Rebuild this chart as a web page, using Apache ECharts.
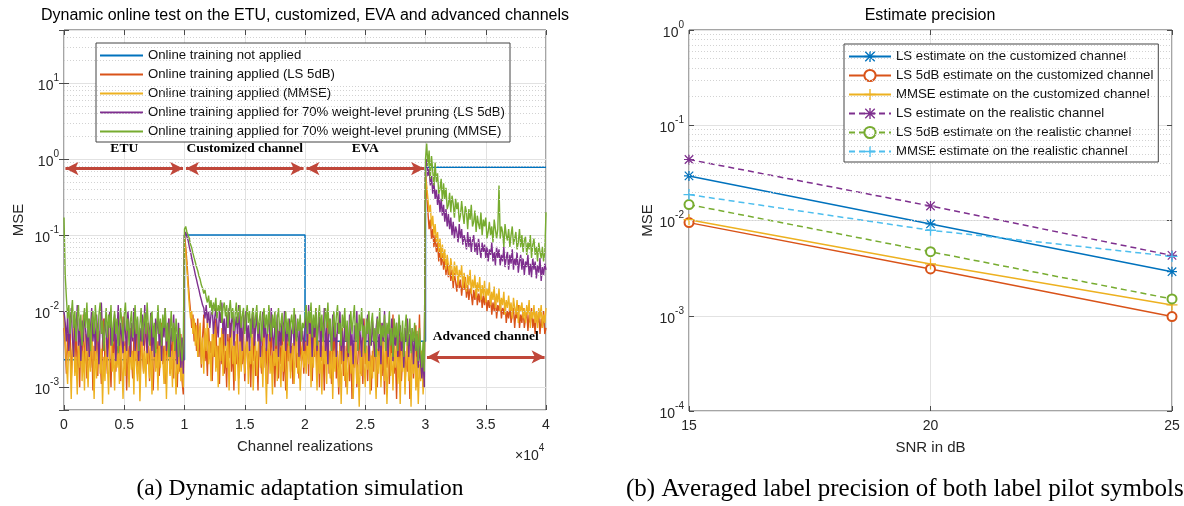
<!DOCTYPE html>
<html>
<head>
<meta charset="utf-8">
<script src="https://cdn.jsdelivr.net/npm/echarts@6/dist/echarts.min.js"></script>
<style>
  html, body { margin: 0; padding: 0; background: #fff; }
  #main { width: 1184px; height: 506px; }
</style>
</head>
<body>
<div id="main"></div>
<script>
// ---------- (a) dynamic adaptation: MSE per channel block of 1e4 realizations ----------
var blockNames = ["ETU", "Customized channel", "EVA", "Advanced channel"];

var blueX = [0, 10000, 10000, 20000, 20000, 30000, 30000, 40000];
var blueY = [2.3e-3, 2.3e-3, 0.1, 0.1, 4e-3, 4e-3, 0.78, 0.78];

// LS 5dB (orange)
var redEtu = [
  6e-3, 3.5e-3, 1.5e-3, 5e-3, 2.5e-3, 8e-3, 1.2e-3, 3e-3, 4.5e-3, 2e-3,
  7e-3, 1.6e-3, 3.5e-3, 1e-3, 5.5e-3, 2.5e-3, 9e-3, 2e-3, 4e-3, 1.3e-3,
  3e-3, 6e-3, 1.8e-3, 4.5e-3, 9e-4, 3.5e-3, 2.2e-3, 7e-3, 1.4e-3, 5e-3,
  2.5e-3, 1.1e-3, 4e-3, 8e-3, 2e-3, 3e-3, 1.5e-3, 6e-3, 2.8e-3, 1e-3,
  4.5e-3, 2e-3, 7.5e-3, 1.6e-3, 3.5e-3, 2.5e-3, 5.5e-3, 1.2e-3, 3e-3, 8.5e-3,
  2e-3, 4e-3, 9e-4, 3.5e-3, 1.8e-3, 6e-3, 2.5e-3, 1.3e-3, 4.5e-3, 2.2e-3,
  7e-3, 1.5e-3, 3e-3, 1e-3, 5e-3, 2.8e-3, 1.6e-3, 4e-3, 8e-3, 2e-3,
  3.5e-3, 1.2e-3, 5.5e-3, 2.5e-3, 9e-4, 3e-3, 6.5e-3, 1.8e-3, 4e-3, 1.4e-3,
  2.5e-3, 7e-3, 2e-3, 3.5e-3, 1.1e-3, 5e-3, 2.2e-3, 8e-3, 1.5e-3, 3e-3,
  4.5e-3, 1.3e-3, 6e-3, 2.5e-3, 1e-3, 3.5e-3, 1.6e-3, 5e-3, 1.2e-3, 8e-4];
var redCus = [
  0.1, 0.07, 0.045, 0.025, 0.015, 1e-2, 6e-3, 9e-3, 4e-3, 7e-3,
  3e-3, 8e-3, 2.5e-3, 5.5e-3, 1.8e-3, 4.5e-3, 9e-3, 2.2e-3, 3.5e-3, 1.4e-3,
  6e-3, 2.8e-3, 4e-3, 1.2e-3, 5e-3, 2.5e-3, 8e-3, 1.8e-3, 3.5e-3, 1.1e-3,
  4.5e-3, 2e-3, 6.5e-3, 1.5e-3, 3e-3, 1e-3, 5e-3, 2.4e-3, 7e-3, 1.6e-3,
  3.5e-3, 9e-4, 4e-3, 2e-3, 5.5e-3, 1.3e-3, 3e-3, 8.5e-3, 2e-3, 4e-3,
  1.2e-3, 3.2e-3, 6e-3, 1.7e-3, 2.8e-3, 1e-3, 4.5e-3, 2.2e-3, 7e-3, 1.4e-3,
  3e-3, 9e-4, 5e-3, 2.5e-3, 1.5e-3, 4e-3, 6e-3, 1.8e-3, 3.3e-3, 1.1e-3,
  4.5e-3, 2.2e-3, 8e-3, 1.5e-3, 3e-3, 1e-3, 5.5e-3, 2.6e-3, 1.3e-3, 3.8e-3,
  2e-3, 6.5e-3, 1.2e-3, 3e-3, 9e-4, 4.5e-3, 2.2e-3, 5e-3, 1.6e-3, 3.5e-3,
  1.1e-3, 4e-3, 7e-3, 1.8e-3, 2.8e-3, 1.3e-3, 5e-3, 2.2e-3, 3.5e-3, 1.5e-3];
var redEva = [
  4e-3, 2e-3, 6e-3, 1.4e-3, 9e-3, 3e-3, 1.2e-3, 5e-3, 2.5e-3, 1.1e-2,
  1.6e-3, 4e-3, 1e-3, 6e-3, 2.2e-3, 3.5e-3, 9e-4, 5e-3, 2e-3, 8e-3,
  1.5e-3, 3e-3, 1.1e-3, 4.5e-3, 2.5e-3, 7e-3, 1.3e-3, 3e-3, 8e-4, 4e-3,
  2e-3, 6e-3, 1.4e-3, 3.5e-3, 1e-3, 5e-3, 2.2e-3, 1.2e-3, 4e-3, 7e-4,
  3e-3, 1.8e-3, 5e-3, 1e-3, 2.5e-3, 6e-3, 1.5e-3, 3e-3, 1.1e-3, 8e-3,
  2e-3, 3.5e-3, 1.2e-3, 4.5e-3, 2.4e-3, 9e-4, 3e-3, 1.6e-3, 5.5e-3, 2e-3,
  1e-3, 4e-3, 2.6e-3, 7e-3, 1.4e-3, 3e-3, 8e-4, 4.5e-3, 1.8e-3, 3.2e-3,
  1.1e-3, 5e-3, 2.2e-3, 9e-3, 1.5e-3, 2.8e-3, 7e-4, 3.5e-3, 1.8e-3, 6e-3,
  1.2e-3, 2.5e-3, 4.5e-3, 1e-3, 3e-3, 1.6e-3, 5e-3, 7e-4, 2.2e-3, 4e-3,
  1.3e-3, 3e-3, 6.5e-3, 1e-3, 2.5e-3, 9e-3, 1.5e-3, 3e-3, 1e-3, 2e-3];
var redAdv = [
  0.7, 0.35, 0.2, 0.12, 0.16, 0.09, 0.12, 0.07, 0.1, 0.06,
  0.08, 0.045, 0.07, 0.04, 0.06, 0.035, 0.05, 0.03, 0.045, 0.028,
  0.04, 0.025, 0.035, 0.02, 0.032, 0.024, 0.018, 0.03, 0.02, 0.026,
  0.016, 0.024, 0.019, 0.028, 0.015, 0.022, 0.014, 0.02, 0.017, 0.012,
  0.019, 0.014, 0.022, 0.012, 0.017, 0.013, 0.02, 0.011, 0.016, 0.012,
  0.018, 0.01, 0.014, 0.011, 0.016, 0.009, 0.013, 0.01, 0.015, 0.008,
  0.012, 0.01, 0.014, 0.008, 0.011, 0.009, 0.013, 0.007, 0.01, 0.008,
  0.012, 0.007, 0.009, 0.011, 0.006, 0.01, 0.008, 0.012, 0.006, 0.009,
  0.007, 0.011, 0.006, 0.008, 0.01, 0.0055, 0.009, 0.007, 0.011, 0.006,
  0.008, 0.005, 0.01, 0.007, 0.009, 0.005, 0.008, 0.006, 0.01, 0.005,
  0.006];

// MMSE (yellow)
var yelEtu = [
  9e-3, 4e-3, 2e-3, 1.1e-3, 4.5e-3, 2.8e-3, 7e-4, 3.5e-3, 6e-3, 1.4e-3,
  2.5e-3, 8e-4, 4e-3, 1.8e-3, 7e-3, 1.2e-3, 3e-3, 9e-4, 5e-3, 2.2e-3,
  1e-3, 3.5e-3, 1.6e-3, 6e-3, 2.5e-3, 7e-4, 4e-3, 1.3e-3, 2.8e-3, 5.5e-3,
  1.5e-3, 3.2e-3, 6e-4, 2.5e-3, 1.2e-3, 4.5e-3, 2e-3, 8e-4, 3.5e-3, 6.5e-3,
  1.6e-3, 2.8e-3, 9e-4, 4e-3, 1.8e-3, 3e-3, 1.1e-3, 5e-3, 2.2e-3, 7e-4,
  3.5e-3, 1.4e-3, 6e-3, 2.5e-3, 1e-3, 4e-3, 1.7e-3, 3e-3, 8e-4, 5.5e-3,
  2e-3, 1.2e-3, 3.8e-3, 6.5e-4, 2.5e-3, 4.5e-3, 1.5e-3, 3e-3, 1e-3, 7e-3,
  2.2e-3, 1.3e-3, 3.5e-3, 8e-4, 2.8e-3, 5e-3, 1.6e-3, 3.2e-3, 9e-4, 4e-3,
  1.8e-3, 6e-3, 2.4e-3, 1.1e-3, 3.5e-3, 7e-4, 2.6e-3, 4.5e-3, 1.4e-3, 3e-3,
  1e-3, 5e-3, 2e-3, 8e-4, 3.2e-3, 1.5e-3, 4e-3, 1.2e-3, 2.2e-3, 1e-3];
var yelCus = [
  0.09, 0.06, 0.035, 0.02, 0.012, 8e-3, 1e-2, 5e-3, 8e-3, 3.5e-3,
  6.5e-3, 2.5e-3, 5e-3, 7e-3, 2e-3, 4.5e-3, 1.5e-3, 6e-3, 3e-3, 8e-3,
  2e-3, 4e-3, 1.2e-3, 5e-3, 2.5e-3, 7e-3, 1.6e-3, 3.5e-3, 1e-3, 4.5e-3,
  2.2e-3, 6e-3, 1.4e-3, 3e-3, 5.5e-3, 1.8e-3, 4e-3, 9e-4, 3.2e-3, 6.5e-3,
  2e-3, 3.5e-3, 1.2e-3, 5e-3, 2.5e-3, 8e-4, 4e-3, 1.6e-3, 3e-3, 6e-3,
  1.5e-3, 2.8e-3, 4.5e-3, 1.1e-3, 3.5e-3, 2e-3, 5.5e-3, 9e-4, 2.5e-3, 4e-3,
  1.4e-3, 3e-3, 7e-3, 1.8e-3, 3.5e-3, 1e-3, 4.5e-3, 2.2e-3, 6e-4, 3e-3,
  5e-3, 1.5e-3, 2.6e-3, 8e-4, 4e-3, 1.9e-3, 3.2e-3, 1.2e-3, 5.5e-3, 2.4e-3,
  1e-3, 3.6e-3, 1.6e-3, 6e-3, 2e-3, 7e-4, 3e-3, 4.5e-3, 1.3e-3, 2.6e-3,
  3.8e-3, 1.1e-3, 2.8e-3, 5e-3, 1.5e-3, 3e-3, 9e-4, 2.2e-3, 4e-3, 1.8e-3];
var yelEva = [
  3e-3, 1.5e-3, 5e-3, 2e-3, 7e-3, 1e-3, 3.5e-3, 1.8e-3, 6e-3, 2.5e-3,
  9e-4, 4e-3, 1.5e-3, 3e-3, 8e-4, 5e-3, 2e-3, 3.5e-3, 1.1e-3, 6e-3,
  2.2e-3, 1.3e-3, 4e-3, 7e-4, 3e-3, 1.6e-3, 5e-3, 2e-3, 1e-3, 3.5e-3,
  6e-4, 2.5e-3, 4.5e-3, 1.2e-3, 3e-3, 8e-4, 2e-3, 5e-3, 1.5e-3, 3e-3,
  7e-4, 2.5e-3, 4e-3, 1.1e-3, 2e-3, 5.5e-4, 3e-3, 1.4e-3, 6e-3, 2e-3,
  1e-3, 3.5e-3, 1.7e-3, 4.5e-3, 8e-4, 2.6e-3, 1.3e-3, 5e-3, 2e-3, 7e-4,
  3.2e-3, 1.5e-3, 4e-3, 1e-3, 2.4e-3, 6e-3, 1.2e-3, 3e-3, 6e-4, 2e-3,
  4.5e-3, 1.4e-3, 2.8e-3, 9e-4, 3.5e-3, 1.8e-3, 5.5e-3, 1.1e-3, 2.5e-3, 6e-4,
  3e-3, 1.6e-3, 4e-3, 8e-4, 2.2e-3, 5e-3, 1.2e-3, 2.8e-3, 5.5e-4, 3.5e-3,
  1.5e-3, 4e-3, 9e-4, 2.5e-3, 6e-4, 2e-3, 1.2e-3, 3e-3, 8e-4, 1.5e-3];
var yelAdv = [
  0.6, 0.45, 0.3, 0.2, 0.25, 0.13, 0.18, 0.1, 0.14, 0.08,
  0.11, 0.06, 0.09, 0.05, 0.075, 0.045, 0.065, 0.035, 0.055, 0.04,
  0.03, 0.05, 0.035, 0.025, 0.045, 0.03, 0.04, 0.022, 0.035, 0.028,
  0.04, 0.02, 0.032, 0.024, 0.018, 0.03, 0.022, 0.035, 0.017, 0.026,
  0.02, 0.03, 0.015, 0.024, 0.018, 0.028, 0.014, 0.022, 0.016, 0.025,
  0.013, 0.02, 0.016, 0.024, 0.012, 0.018, 0.014, 0.021, 0.011, 0.017,
  0.013, 0.02, 0.01, 0.015, 0.012, 0.018, 0.009, 0.014, 0.011, 0.016,
  0.01, 0.013, 0.008, 0.015, 0.011, 0.009, 0.014, 0.007, 0.012, 0.01,
  0.013, 0.008, 0.011, 0.007, 0.012, 0.009, 0.014, 0.006, 0.01, 0.008,
  0.012, 0.007, 0.01, 0.006, 0.011, 0.008, 0.012, 0.006, 0.009, 0.007,
  0.011];

// 70% pruning, LS 5dB (purple)
var purEtu = [
  1e-2, 7e-3, 4e-3, 9e-3, 3e-3, 6e-3, 1.1e-2, 4.5e-3, 2.5e-3, 8e-3,
  5e-3, 1.2e-2, 3.5e-3, 6e-3, 2.2e-3, 7.5e-3, 4e-3, 1e-2, 5.5e-3, 3e-3,
  8e-3, 2.5e-3, 6e-3, 1.1e-2, 4e-3, 7e-3, 3e-3, 9e-3, 5e-3, 2e-3,
  6.5e-3, 1.3e-2, 4.5e-3, 3e-3, 8e-3, 5e-3, 2.5e-3, 7e-3, 1e-2, 3.5e-3,
  6e-3, 4e-3, 9e-3, 2.2e-3, 5e-3, 1.2e-2, 3.5e-3, 7e-3, 4.5e-3, 2.8e-3,
  8.5e-3, 5e-3, 3e-3, 1e-2, 6e-3, 2.5e-3, 7e-3, 4e-3, 1.1e-2, 3e-3,
  5.5e-3, 8e-3, 2.2e-3, 6e-3, 4e-3, 9e-3, 3.5e-3, 1.2e-2, 5e-3, 2.8e-3,
  7e-3, 4e-3, 9.5e-3, 3e-3, 6e-3, 2.5e-3, 8e-3, 5e-3, 1e-2, 3.5e-3,
  6e-3, 2.2e-3, 7e-3, 4.5e-3, 1.1e-2, 3e-3, 5.5e-3, 8e-3, 2.5e-3, 6e-3,
  4e-3, 9e-3, 3e-3, 5e-3, 2e-3, 7e-3, 3.5e-3, 1.8e-3, 4.5e-3, 1.5e-3];
var purCus = [
  0.1, 0.11, 0.095, 0.085, 0.07, 0.06, 0.05, 0.042, 0.036, 0.03,
  0.026, 0.022, 0.019, 0.016, 0.014, 0.012, 1.1e-2, 8e-3, 1.2e-2, 7e-3,
  1e-2, 6e-3, 9e-3, 1.2e-2, 5e-3, 8e-3, 1.1e-2, 6.5e-3, 4.5e-3, 1e-2,
  7e-3, 1.3e-2, 5e-3, 8e-3, 3.5e-3, 9e-3, 6e-3, 1.1e-2, 4.5e-3, 7e-3,
  1e-2, 3.5e-3, 6e-3, 8.5e-3, 5e-3, 1.2e-2, 4e-3, 7e-3, 3e-3, 9e-3,
  5.5e-3, 1e-2, 4e-3, 6.5e-3, 3e-3, 8e-3, 5e-3, 1.1e-2, 3.5e-3, 6e-3,
  9e-3, 4e-3, 7e-3, 2.5e-3, 5.5e-3, 1e-2, 4.5e-3, 7.5e-3, 3e-3, 6e-3,
  8.5e-3, 4e-3, 1.1e-2, 5e-3, 3e-3, 7e-3, 4.5e-3, 9e-3, 2.5e-3, 6e-3,
  3.5e-3, 8e-3, 5e-3, 1e-2, 3e-3, 6.5e-3, 4e-3, 8e-3, 2.8e-3, 5.5e-3,
  7e-3, 3.5e-3, 9e-3, 4.5e-3, 6e-3, 2.5e-3, 7.5e-3, 4e-3, 5.5e-3, 3e-3];
var purEva = [
  6e-3, 9e-3, 3.5e-3, 1.2e-2, 5e-3, 7e-3, 2.5e-3, 8e-3, 4.5e-3, 1e-2,
  3e-3, 6e-3, 8.5e-3, 2.5e-3, 7e-3, 4.5e-3, 1.1e-2, 3e-3, 6e-3, 2e-3,
  8e-3, 5e-3, 3e-3, 9e-3, 4e-3, 6.5e-3, 2.5e-3, 7e-3, 5e-3, 1e-2,
  3e-3, 5.5e-3, 2.2e-3, 7.5e-3, 4e-3, 6e-3, 2.5e-3, 9e-3, 3.5e-3, 5e-3,
  2e-3, 6.5e-3, 4e-3, 1e-2, 3e-3, 7e-3, 4.5e-3, 2.5e-3, 8e-3, 5e-3,
  3e-3, 6e-3, 9e-3, 2.2e-3, 5e-3, 3.5e-3, 7.5e-3, 4e-3, 2.5e-3, 6e-3,
  8.5e-3, 3e-3, 5e-3, 2e-3, 7e-3, 4e-3, 1e-2, 3e-3, 5.5e-3, 2.5e-3,
  6e-3, 4e-3, 8e-3, 2.2e-3, 5e-3, 3.5e-3, 7e-3, 2.5e-3, 4.5e-3, 6.5e-3,
  3e-3, 5e-3, 1.8e-3, 6e-3, 4e-3, 8e-3, 2.5e-3, 5e-3, 3e-3, 6e-3,
  2e-3, 4.5e-3, 3e-3, 5e-3, 1.8e-3, 3.5e-3, 2e-3, 1.3e-3, 2.5e-3, 1e-3];
var purAdv = [
  0.8, 1.0, 0.6, 0.75, 0.45, 0.6, 0.35, 0.5, 0.3, 0.4,
  0.25, 0.35, 0.2, 0.3, 0.18, 0.25, 0.15, 0.22, 0.13, 0.19,
  0.12, 0.17, 0.1, 0.15, 0.09, 0.13, 0.11, 0.08, 0.14, 0.09,
  0.12, 0.075, 0.1, 0.085, 0.065, 0.11, 0.07, 0.095, 0.06, 0.085,
  0.1, 0.06, 0.08, 0.055, 0.09, 0.065, 0.05, 0.08, 0.06, 0.075,
  0.05, 0.07, 0.045, 0.065, 0.055, 0.08, 0.045, 0.06, 0.04, 0.07,
  0.05, 0.065, 0.04, 0.055, 0.045, 0.07, 0.038, 0.05, 0.06, 0.035,
  0.055, 0.042, 0.065, 0.035, 0.05, 0.04, 0.06, 0.032, 0.045, 0.055,
  0.035, 0.05, 0.03, 0.045, 0.038, 0.055, 0.03, 0.042, 0.028, 0.05,
  0.035, 0.045, 0.027, 0.04, 0.032, 0.05, 0.025, 0.038, 0.03, 0.042,
  0.035];

// 70% pruning, MMSE (green)
var grnEtu = [
  0.17, 0.03, 1.5e-2, 8e-3, 1.2e-2, 5e-3, 9e-3, 1.4e-2, 6e-3, 1e-2,
  4e-3, 8e-3, 1.2e-2, 5.5e-3, 9e-3, 3.5e-3, 7e-3, 1.1e-2, 6e-3, 1.3e-2,
  4.5e-3, 8e-3, 3e-3, 7e-3, 1e-2, 5e-3, 1.2e-2, 6.5e-3, 4e-3, 9e-3,
  1.3e-2, 5e-3, 7.5e-3, 3e-3, 6e-3, 1.1e-2, 4.5e-3, 9e-3, 6e-3, 1.2e-2,
  3.5e-3, 7e-3, 1e-2, 5e-3, 8e-3, 2.8e-3, 6e-3, 1.1e-2, 7e-3, 4e-3,
  9e-3, 1.3e-2, 5.5e-3, 8e-3, 3.5e-3, 7e-3, 1e-2, 4.5e-3, 6e-3, 1.2e-2,
  5e-3, 8.5e-3, 3e-3, 6.5e-3, 1.1e-2, 4e-3, 7e-3, 9.5e-3, 5e-3, 1.3e-2,
  6e-3, 3.5e-3, 8e-3, 1e-2, 4.5e-3, 7e-3, 2.8e-3, 6e-3, 1.2e-2, 5e-3,
  8e-3, 3.5e-3, 9e-3, 6e-3, 1.1e-2, 4e-3, 7e-3, 2.5e-3, 5.5e-3, 1e-2,
  4e-3, 7e-3, 3e-3, 8e-3, 5e-3, 2.5e-3, 6e-3, 3.5e-3, 2.2e-3, 4e-3];
var grnCus = [
  0.12, 0.13, 0.11, 0.1, 0.09, 0.075, 0.068, 0.058, 0.05, 0.044,
  0.038, 0.034, 0.029, 0.026, 0.022, 0.02, 0.017, 0.019, 0.015, 0.013,
  1.6e-2, 1.1e-2, 1.4e-2, 9e-3, 1.3e-2, 1e-2, 1.5e-2, 8e-3, 1.2e-2, 1e-2,
  1.4e-2, 7e-3, 1.1e-2, 1.3e-2, 8.5e-3, 1.2e-2, 6e-3, 1e-2, 1.4e-2, 8e-3,
  1.1e-2, 5.5e-3, 9e-3, 1.3e-2, 7e-3, 1e-2, 1.2e-2, 6e-3, 9e-3, 1.1e-2,
  5e-3, 8e-3, 1.2e-2, 7e-3, 1e-2, 4.5e-3, 9e-3, 1.1e-2, 6e-3, 8.5e-3,
  1.2e-2, 5e-3, 7.5e-3, 1e-2, 4e-3, 8e-3, 1.1e-2, 6e-3, 9e-3, 5e-3,
  1.2e-2, 7e-3, 4.5e-3, 9e-3, 6e-3, 1e-2, 3.5e-3, 8e-3, 1.1e-2, 5.5e-3,
  7e-3, 9.5e-3, 4e-3, 6.5e-3, 1e-2, 5e-3, 8e-3, 3.5e-3, 7e-3, 9e-3,
  5e-3, 1.1e-2, 6e-3, 4e-3, 8e-3, 5.5e-3, 9e-3, 4e-3, 7e-3, 6e-3];
var grnEva = [
  8e-3, 1.2e-2, 5e-3, 1e-2, 7e-3, 1.3e-2, 4.5e-3, 9e-3, 6e-3, 1.1e-2,
  3.5e-3, 8e-3, 1.2e-2, 5.5e-3, 9e-3, 4e-3, 7e-3, 1.1e-2, 6e-3, 1.3e-2,
  5e-3, 8e-3, 3e-3, 6.5e-3, 1e-2, 4.5e-3, 8.5e-3, 1.2e-2, 5e-3, 7e-3,
  3.5e-3, 9e-3, 6e-3, 1.1e-2, 4e-3, 7.5e-3, 2.8e-3, 6e-3, 1e-2, 5e-3,
  8e-3, 1.2e-2, 4e-3, 7e-3, 3e-3, 9e-3, 5.5e-3, 1.1e-2, 4.5e-3, 6.5e-3,
  2.8e-3, 8e-3, 5e-3, 1e-2, 3.5e-3, 7e-3, 9.5e-3, 4e-3, 6e-3, 2.5e-3,
  8e-3, 5e-3, 1.1e-2, 3.5e-3, 6.5e-3, 4.5e-3, 9e-3, 3e-3, 7e-3, 5e-3,
  1e-2, 3.5e-3, 6e-3, 2.5e-3, 8e-3, 4.5e-3, 7e-3, 3e-3, 9e-3, 5.5e-3,
  4e-3, 7.5e-3, 2.5e-3, 6e-3, 9e-3, 3.5e-3, 5e-3, 8e-3, 2.8e-3, 6e-3,
  4e-3, 7e-3, 3e-3, 5.5e-3, 2.2e-3, 6e-3, 3e-3, 1.8e-3, 4e-3, 1.6e-3];
var grnAdv = [
  1.0, 1.6, 0.8, 1.3, 0.55, 1.1, 0.7, 0.45, 0.9, 0.5,
  0.65, 0.35, 0.4, 0.55, 0.28, 0.48, 0.3, 0.42, 0.22, 0.25,
  0.36, 0.2, 0.33, 0.26, 0.17, 0.3, 0.22, 0.27, 0.15, 0.18,
  0.28, 0.19, 0.14, 0.24, 0.2, 0.12, 0.22, 0.16, 0.25, 0.13,
  0.15, 0.21, 0.11, 0.18, 0.14, 0.12, 0.2, 0.1, 0.16, 0.13,
  0.17, 0.09, 0.11, 0.15, 0.1, 0.13, 0.08, 0.16, 0.12, 0.09,
  0.12, 0.45, 0.09, 0.13, 0.11, 0.07, 0.14, 0.1, 0.085, 0.12,
  0.07, 0.1, 0.13, 0.075, 0.09, 0.11, 0.065, 0.08, 0.12, 0.07,
  0.1, 0.06, 0.085, 0.095, 0.055, 0.08, 0.065, 0.1, 0.05, 0.075,
  0.09, 0.055, 0.07, 0.045, 0.08, 0.06, 0.05, 0.07, 0.045, 0.06,
  0.2];

var leftNames = [
  "Online training not applied",
  "Online training applied (LS 5dB)",
  "Online training applied (MMSE)",
  "Online training applied for 70% weight-level pruning (LS 5dB)",
  "Online training applied for 70% weight-level pruning (MMSE)"
];

// ---------- (b) estimate precision ----------
var snr = [15, 20, 25];
var lsCustom = [0.0294, 0.0092, 0.0029];
var ls5Custom = [0.0095, 0.0031, 0.00098];
var mmseCustom = [0.0102, 0.0035, 0.0013];
var lsReal = [0.0437, 0.0142, 0.0043];
var ls5Real = [0.0147, 0.0047, 0.0015];
var mmseReal = [0.0187, 0.0079, 0.0042];
var rightNames = [
  "LS estimate on the customized channel",
  "LS 5dB estimate on the customized channel",
  "MMSE estimate on the customized channel",
  "LS estimate on the realistic channel",
  "LS 5dB estimate on the realistic channel",
  "MMSE estimate on the realistic channel"
];

var FONT = '"Liberation Sans", Arial, sans-serif';
var SERIF = '"Liberation Serif", "Times New Roman", serif';
var TXT = "#262626";
var BOX = "#4a4a4a";
var GRID_MAJOR = "#e2e2e2";
var GRID_MINOR = "#d2d2d2";
var ARROW = "#c0473a";
var C = ["#0072BD", "#D95319", "#EDB120", "#7E2F8E", "#77AC30", "#4DBEEE"];

var PLUS = "path://M4.4,0L5.6,0L5.6,4.4L10,4.4L10,5.6L5.6,5.6L5.6,10L4.4,10L4.4,5.6L0,5.6L0,4.4L4.4,4.4Z";
var STAR = PLUS + "M1.2,0.35L9.65,8.8L8.8,9.65L0.35,1.2Z M8.8,0.35L9.65,1.2L1.2,9.65L0.35,8.8Z";

// x position of each sample: blocks of 1e4 realizations, last block closed at 4e4
function blockPoints(blocks) {
  var pts = [];
  blocks.forEach(function (vals, b) {
    var last = b === blocks.length - 1;
    var step = 10000 / (last ? vals.length - 1 : vals.length);
    vals.forEach(function (v, i) { pts.push([b * 10000 + i * step, v]); });
  });
  return pts;
}

function minorLines(lo, hi) {
  var out = [];
  for (var e = -5; e < 3; e++) {
    for (var m = 2; m <= 9; m++) {
      var v = m * Math.pow(10, e);
      if (v > lo * 1.0001 && v < hi * 0.9999) out.push({ yAxis: v });
    }
  }
  return out;
}

function expLabel(v) {
  var e = Math.log(v) / Math.LN10;
  var r = Math.round(e);
  if (Math.abs(e - r) > 1e-6) return "";
  return "{b|10}{s|" + r + "}";
}
var expRich = {
  b: { fontSize: 14, color: TXT, fontFamily: FONT, fontWeight: "normal", lineHeight: 20, verticalAlign: "bottom" },
  s: { fontSize: 10, color: TXT, fontFamily: FONT, fontWeight: "normal", lineHeight: 11, verticalAlign: "top" }
};

function xAxisOf(grid, min, max, interval, name, fmt, top) {
  return {
    type: "value", gridIndex: grid, min: min, max: max, interval: interval,
    position: top ? "top" : "bottom",
    name: top ? "" : name, nameLocation: "middle", nameGap: 29,
    nameTextStyle: { fontFamily: FONT, fontSize: 15, color: TXT },
    axisLine: { show: false },
    axisTick: { show: true, inside: true, length: 5, lineStyle: { color: BOX } },
    axisLabel: { show: !top, margin: 8, fontFamily: FONT, fontSize: 14, color: TXT, formatter: fmt },
    splitLine: { show: !top, lineStyle: { color: GRID_MAJOR, width: 1 } }
  };
}

function yAxisOf(grid, min, max, nameGap, right) {
  return {
    type: "log", logBase: 10, gridIndex: grid, min: min, max: max,
    position: right ? "right" : "left",
    name: right ? "" : "MSE", nameLocation: "middle", nameGap: nameGap, nameRotate: 90,
    nameTextStyle: { fontFamily: FONT, fontSize: 15, color: TXT },
    axisLine: { show: false },
    axisTick: { show: true, inside: true, length: 5, lineStyle: { color: BOX } },
    axisLabel: { show: !right, margin: 5, formatter: expLabel, rich: expRich },
    splitLine: { show: !right, lineStyle: { color: GRID_MAJOR, width: 1 } },
    minorTick: { show: false }
  };
}

function noisy(name, color, blocks) {
  return {
    name: name, type: "line", xAxisIndex: 0, yAxisIndex: 0,
    data: blockPoints(blocks), symbol: "none", color: color,
    lineStyle: { width: 1.4, color: color }, silent: true
  };
}

function arrowPair(label, x0, x1, y) {
  return [{ name: label, coord: [x0, y] }, { coord: [x1, y] }];
}

function estSeries(name, color, data, symbol, dashed, size) {
  var ring = symbol === "emptyCircle";
  return {
    name: name, type: "line", xAxisIndex: 2, yAxisIndex: 2,
    data: snr.map(function (s, i) { return [s, data[i]]; }),
    color: color, symbol: symbol, symbolSize: size,
    lineStyle: { width: 1.5, color: color, type: dashed ? [6, 4] : "solid" },
    itemStyle: { color: color, borderColor: color, borderWidth: ring ? 1.3 : 0 },
    silent: true
  };
}

function minorGridSeries(xi, yi, lo, hi) {
  return {
    type: "line", xAxisIndex: xi, yAxisIndex: yi, data: [], silent: true, z: 1,
    markLine: { silent: true, symbol: "none", animation: false, label: { show: false },
      lineStyle: { color: GRID_MINOR, type: [1, 2], width: 1 }, emphasis: { disabled: true },
      data: minorLines(lo, hi) }
  };
}

var leftMin = 5e-4, leftMax = 50, rightMin = 1e-4, rightMax = 1;
var titleFont = { fontFamily: FONT, fontSize: 16, fontWeight: "normal", color: "#000" };

var option = {
  animation: false,
  backgroundColor: "#fff",
  title: [
    { text: "Dynamic online test on the ETU, customized, EVA and advanced channels", left: 305, top: 8, textAlign: "center", padding: 0, textStyle: titleFont },
    { text: "Estimate precision", left: 930, top: 8, textAlign: "center", padding: 0, textStyle: titleFont },
    { text: "{x|\u00d7}{b|10}{s|4}", left: 515, top: 443, padding: 0,
      textStyle: { fontWeight: "normal", rich: {
        x: { fontSize: 14, color: TXT, fontFamily: FONT, fontWeight: "normal", lineHeight: 20, verticalAlign: "bottom" },
        b: expRich.b, s: expRich.s } } },
    { text: "(a) Dynamic adaptation simulation", left: 300, top: 477, textAlign: "center", padding: 0,
      textStyle: { fontFamily: SERIF, fontSize: 23.5, fontWeight: "normal", color: "#000" } },
    { text: "(b) Averaged label precision of both label pilot symbols", left: 626, top: 477, padding: 0,
      textStyle: { fontFamily: SERIF, fontSize: 25, fontWeight: "normal", color: "#000" } }
  ],
  legend: [
    { data: leftNames, orient: "vertical", left: 96, top: 43, icon: "rect", itemWidth: 43, itemHeight: 2, itemGap: 4,
      padding: [5, 5, 3, 4], borderColor: "#444", borderWidth: 1, backgroundColor: "#fff",
      selectedMode: false, textStyle: { fontFamily: FONT, fontSize: 13.2, lineHeight: 15, color: "#111" } },
    { data: rightNames, orient: "vertical", left: 844, top: 44, itemWidth: 42, itemHeight: 14, itemGap: 4,
      padding: [5, 5, 3, 4], borderColor: "#444", borderWidth: 1, backgroundColor: "#fff",
      selectedMode: false, textStyle: { fontFamily: FONT, fontSize: 13.2, lineHeight: 15, color: "#111" } }
  ],
  grid: [
    { left: 64, top: 30, width: 482, height: 380, show: true, borderColor: BOX, borderWidth: 1, backgroundColor: "transparent" },
    { left: 689, top: 30, width: 483, height: 381, show: true, borderColor: BOX, borderWidth: 1, backgroundColor: "transparent" }
  ],
  xAxis: [
    xAxisOf(0, 0, 40000, 5000, "Channel realizations", function (v) { return String(v / 10000); }, false),
    xAxisOf(0, 0, 40000, 5000, "", null, true),
    xAxisOf(1, 15, 25, 5, "SNR in dB", null, false),
    xAxisOf(1, 15, 25, 5, "", null, true)
  ],
  yAxis: [
    yAxisOf(0, leftMin, leftMax, 38, false),
    yAxisOf(0, leftMin, leftMax, 0, true),
    yAxisOf(1, rightMin, rightMax, 31, false),
    yAxisOf(1, rightMin, rightMax, 0, true)
  ],
  series: [
    minorGridSeries(0, 0, leftMin, leftMax),
    minorGridSeries(2, 2, rightMin, rightMax),
    {
      name: leftNames[0], type: "line", xAxisIndex: 0, yAxisIndex: 0,
      data: blueX.map(function (x, i) { return [x, blueY[i]]; }),
      symbol: "none", color: C[0], lineStyle: { width: 1.5, color: C[0] }, silent: true,
      markLine: {
        silent: true, animation: false, symbol: ["arrow", "arrow"], symbolSize: [10, 13],
        lineStyle: { color: ARROW, width: 3, type: "solid" }, emphasis: { disabled: true },
        label: { show: true, position: "insideMiddleTop", distance: 13, formatter: "{b}",
          fontFamily: SERIF, fontWeight: "bold", fontSize: 13.5, color: "#000" },
        data: [
          arrowPair(blockNames[0], 120, 9880, 0.75),
          arrowPair(blockNames[1], 10120, 19880, 0.75),
          arrowPair(blockNames[2], 20120, 29880, 0.75),
          arrowPair(blockNames[3], 30120, 39880, 2.5e-3)
        ]
      }
    },
    noisy(leftNames[1], C[1], [redEtu, redCus, redEva, redAdv]),
    noisy(leftNames[2], C[2], [yelEtu, yelCus, yelEva, yelAdv]),
    noisy(leftNames[3], C[3], [purEtu, purCus, purEva, purAdv]),
    noisy(leftNames[4], C[4], [grnEtu, grnCus, grnEva, grnAdv]),
    estSeries(rightNames[0], C[0], lsCustom, STAR, false, 10),
    estSeries(rightNames[1], C[1], ls5Custom, "emptyCircle", false, 9),
    estSeries(rightNames[2], C[2], mmseCustom, PLUS, false, 11),
    estSeries(rightNames[3], C[3], lsReal, STAR, true, 10),
    estSeries(rightNames[4], C[4], ls5Real, "emptyCircle", true, 9),
    estSeries(rightNames[5], C[5], mmseReal, PLUS, true, 11)
  ]
};

var chart = echarts.init(document.getElementById("main"), null, { renderer: "canvas" });
chart.setOption(option);
</script>
</body>
</html>
